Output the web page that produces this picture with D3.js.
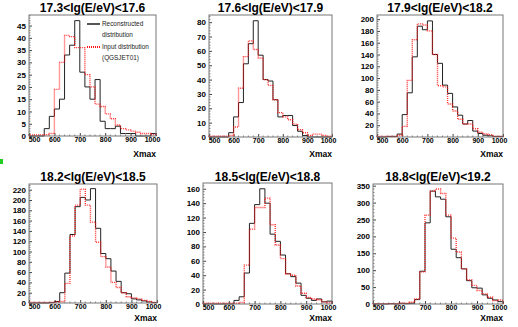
<!DOCTYPE html>
<html>
<head>
<meta charset="utf-8">
<script src="https://cdn.jsdelivr.net/npm/d3@7"></script>
<style>
  body { margin: 0; background: #fff; }
  svg text { font-family: "Liberation Sans", Arial, sans-serif; }
</style>
</head>
<body>
<svg id="chart" width="518" height="327"></svg>
<script>
// lower edges of the Xmax bins (g/cm2)
const binLow = [500, 520, 540, 560, 580, 600, 620, 640, 660, 680, 700, 720, 740,
                760, 780, 800, 820, 840, 860, 880, 900, 920, 940, 960, 980];
const xTicks = [500, 600, 700, 800, 900, 1000];

const titles = ["17.3<lg(E/eV)<17.6", "17.6<lg(E/eV)<17.9", "17.9<lg(E/eV)<18.2",
                "18.2<lg(E/eV)<18.5", "18.5<lg(E/eV)<18.8", "18.8<lg(E/eV)<19.2"];
const yMax = [49.3, 85, 207, 231, 168, 355];
const yStep = [5, 10, 20, 20, 20, 50];

// reconstructed (black) and input QGSJET01 (red) distributions
const reco1  = [0, 0, 0, 3, 8, 11, 15, 33, 37, 47, 26, 20, 15, 23, 6, 3, 3, 4, 1, 1, 1, 0, 0, 0, 1];
const input1 = [0.4, 0.4, 0.4, 0.5, 1, 19, 30, 41, 40.5, 36, 36, 25, 20, 13, 12, 9, 7, 4.5, 3, 2.5, 2, 1.5, 1, 1, 0.6];

const reco2  = [0, 0, 0, 0, 3, 14, 24, 51, 65, 81, 57, 40, 39, 26, 14, 15, 15, 8, 4, 1, 0, 0, 0, 0, 0];
const input2 = [0.5, 0.5, 0.5, 0.5, 1, 7, 34, 56, 67, 61, 55, 40, 36, 26, 17, 14, 12, 9, 5, 3, 1, 2, 2, 1, 0.5];

const reco3  = [0, 0, 1, 1, 5, 38, 75, 136, 188, 182, 197, 140, 125, 88, 74, 51, 37, 22, 28, 10, 6, 3, 2, 1, 1];
const input3 = [1, 1, 1, 1, 3, 18, 96, 165, 192, 190, 180, 140, 87, 85, 56, 44, 30, 22, 22, 14, 8, 5, 4, 1, 1];

const reco4  = [0, 0, 0, 0, 1, 3, 20, 58, 133, 187, 205, 200, 222, 145, 96, 86, 62, 42, 20, 18, 8, 6, 4, 2, 1];
const input4 = [1, 1, 1, 1, 1, 2, 3, 38, 130, 190, 221, 190, 157, 118, 90, 70, 40, 30, 20, 12, 10, 8, 5, 3, 1];

const reco5  = [0, 0, 0, 0, 0, 0, 5, 10, 43, 112, 138, 160, 140, 97, 87, 68, 42, 38, 29, 12, 8, 5, 7, 3, 4];
const input5 = [1, 1, 1, 1, 1, 1, 1, 2, 54, 104, 134, 134, 147, 110, 82, 63, 42, 40, 25, 15, 9, 7, 6, 3, 2];

const reco6  = [0, 0, 0, 1, 0, 2, 1, 2, 13, 97, 240, 334, 317, 310, 258, 162, 137, 104, 69, 48, 47, 27, 17, 12, 7];
const input6 = [1, 1, 1, 1, 1, 2, 2, 5, 15, 95, 263, 334, 340, 327, 263, 195, 154, 104, 71, 55, 40, 30, 20, 10, 12];

const legendLabels = [["Reconstructed", "distribution"], ["Input distribution", "(QGSJET01)"]];

const recos = [reco1, reco2, reco3, reco4, reco5, reco6];
const inputs = [input1, input2, input3, input4, input5, input6];

// frame boxes: left, right, top, bottom, baseline of title, baseline of "Xmax"
const frames = [
  [29, 156, 15, 136, 11.5, 156.5],
  [209, 332, 15, 137, 11.5, 156.5],
  [377, 503, 15, 137, 11.5, 156.5],
  [29, 157, 184, 303, 180.5, 321],
  [203, 332, 183, 304, 180.5, 321],
  [373, 503, 184, 304, 180.5, 321]
];

const svg = d3.select("#chart");
const redDash = "1,1";
const red = "#ff1010";

svg.append("rect")
  .attr("x", 0).attr("y", 159).attr("width", 3).attr("height", 5)
  .attr("fill", "#22cc22");

frames.forEach((f, i) => {
  const [x0, x1, y0, y1, ty, ly] = f;
  const x = d3.scaleLinear().domain([500, 1000]).range([x0, x1]);
  const y = d3.scaleLinear().domain([0, yMax[i]]).range([y1, y0]);
  const g = svg.append("g");

  // minor ticks
  const xMinor = binLow.filter(v => v % 100 !== 0);
  g.selectAll(".xminor").data(xMinor).enter().append("line")
    .attr("x1", d => x(d)).attr("x2", d => x(d))
    .attr("y1", y1).attr("y2", y1 - 1.5)
    .attr("stroke", "#555").attr("stroke-width", 0.7);
  const yMinor = d3.range(0, yMax[i], yStep[i] / 5).filter((v, k) => k % 5 !== 0);
  g.selectAll(".yminor").data(yMinor).enter().append("line")
    .attr("x1", x0).attr("x2", x0 + 1.5)
    .attr("y1", d => y(d)).attr("y2", d => y(d))
    .attr("stroke", "#555").attr("stroke-width", 0.7);

  // axes
  const yAxis = g.append("g")
    .attr("transform", `translate(${x0},0)`)
    .call(d3.axisLeft(y).tickValues(d3.range(0, yMax[i], yStep[i])).tickSize(-3).tickPadding(3));
  yAxis.select(".domain").remove();
  yAxis.selectAll("line").attr("stroke", "#444");
  yAxis.selectAll("text")
    .style("font-size", "8px").style("font-weight", "bold").attr("fill", "#000");

  const xAxis = g.append("g")
    .attr("transform", `translate(0,${y1})`)
    .call(d3.axisBottom(x).tickValues(xTicks).tickFormat(d3.format("d")).tickSize(-3).tickPadding(1.5));
  xAxis.select(".domain").remove();
  xAxis.selectAll("line").attr("stroke", "#444");
  xAxis.selectAll("text")
    .style("font-size", "7px").style("font-weight", "bold").attr("fill", "#000")
    .attr("dx", d => d === 500 ? 5 : d === 1000 ? -4 : 0);

  // histograms
  const line = d3.line()
    .x(d => x(d[0]))
    .y(d => y(d[1]))
    .curve(d3.curveStepAfter);
  const pts = vals => [[500, 0]]
    .concat(binLow.map((e, k) => [e, vals[k]]))
    .concat([[1000, vals[vals.length - 1]], [1000, 0]]);

  g.append("path")
    .attr("d", line(pts(recos[i])))
    .attr("fill", "none").attr("stroke", "#222").attr("stroke-width", 1);
  g.append("path")
    .attr("d", line(pts(inputs[i])))
    .attr("fill", "none").attr("stroke", red).attr("stroke-width", 1.4)
    .attr("stroke-opacity", 0.85)
    .attr("stroke-dasharray", redDash);

  // frame
  g.append("rect")
    .attr("x", x0).attr("y", y0).attr("width", x1 - x0).attr("height", y1 - y0)
    .attr("fill", "none").attr("stroke", "#777").attr("stroke-width", 1);

  // title
  svg.append("text")
    .attr("x", (x0 + x1) / 2).attr("y", ty)
    .attr("text-anchor", "middle")
    .style("font-size", "12px").style("font-weight", "bold")
    .text(titles[i]);

  svg.append("text")
    .attr("x", x1).attr("y", ly)
    .attr("text-anchor", "end")
    .style("font-size", "8.5px").style("font-weight", "bold")
    .text("Xmax");
});

// legend, first panel only
const leg = svg.append("g");
const legY = [[24, 34.5], [47, 58]];
legendLabels.forEach((lab, k) => {
  leg.append("line")
    .attr("x1", 87).attr("x2", 100)
    .attr("y1", legY[k][0]).attr("y2", legY[k][0])
    .style("stroke", k === 1 ? red : "#555")
    .style("stroke-width", 2)
    .style("stroke-dasharray", k === 1 ? redDash : "none");
  lab.forEach((t, j) => {
    leg.append("text")
      .attr("x", 102).attr("y", legY[k][j] + 2.2)
      .style("font-size", "6.4px").attr("fill", "#222")
      .text(t);
  });
});
</script>
</body>
</html>
